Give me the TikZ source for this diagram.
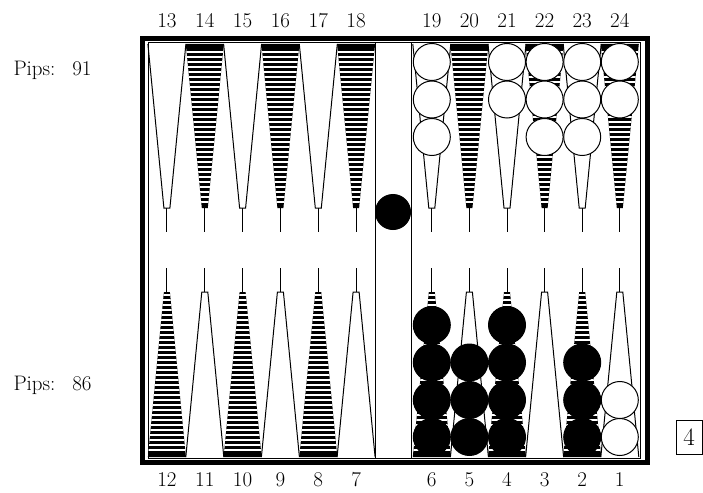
\documentclass[tikz,border=0pt]{standalone}
\begin{document}
\begin{tikzpicture}[x=1pt,y=-1pt,line width=1pt,
  num/.style={font=\fontsize{21}{25}\selectfont,inner sep=0pt,anchor=base},
  pips/.style={font=\fontsize{21}{25}\selectfont,inner sep=0pt,anchor=base west},
  whitestone/.style={draw,fill=white},
  blackstone/.style={draw,fill=black}]
\useasboundingbox (0,0) rectangle (703,492);

% frame and bar
\draw[line width=5pt] (142,39) rectangle (647,462);
\draw (148,43) rectangle (640,458);
\draw (375,43) -- (375,458);
\draw (411,43) -- (411,458);

% top points
\foreach \c in {204.8,280.4,356.1,469.4,544.6,619.8} {
  \fill (\c-19,44) -- (\c-3,208) -- (\c+3,208) -- (\c+19,44) -- cycle;
  \begin{scope}
    \clip (\c-19,44) -- (\c-3,208) -- (\c+3,208) -- (\c+19,44) -- cycle;
    \foreach \s in {52,57,...,205} \draw[white,line width=1.2pt] (\c-20,\s) -- (\c+20,\s);
  \end{scope}
  \draw (\c,208) -- (\c,232);
}
\foreach \c in {166.9,242.6,318.3,431.8,507.0,582.2} {
  \draw (\c-19,44) -- (\c-3,208) -- (\c+3,208) -- (\c+19,44);
  \draw (\c,208) -- (\c,232);
}

% bottom points
\foreach \c in {166.9,242.6,318.3,431.8,507.0,582.2} {
  \fill (\c-19,457) -- (\c-3,292) -- (\c+3,292) -- (\c+19,457) -- cycle;
  \begin{scope}
    \clip (\c-19,457) -- (\c-3,292) -- (\c+3,292) -- (\c+19,457) -- cycle;
    \foreach \s in {295,300,...,452} \draw[white,line width=1.2pt] (\c-20,\s) -- (\c+20,\s);
  \end{scope}
  \draw (\c,292) -- (\c,268);
}
\foreach \c in {204.8,280.4,356.1,469.4,544.6,619.8} {
  \draw (\c-19,457) -- (\c-3,292) -- (\c+3,292) -- (\c+19,457);
  \draw (\c,292) -- (\c,268);
}

% white checkers
\foreach \c/\y in {431.8/62,431.8/99.5,431.8/137,
                   507.0/62,507.0/99.5,
                   544.6/62,544.6/99.5,544.6/137,
                   582.2/62,582.2/99.5,582.2/137,
                   619.8/62,619.8/99.5,
                   619.8/437,619.8/400}
  \draw[whitestone] (\c,\y) circle (18.5);

% black checkers
\foreach \c/\y in {431.8/437,431.8/400,431.8/362.5,431.8/325,
                   469.4/437,469.4/400,469.4/362.5,
                   507.0/437,507.0/400,507.0/362.5,507.0/325,
                   582.2/437,582.2/400,582.2/362.5}
  \draw[blackstone] (\c,\y) circle (18.5);
\draw[blackstone] (393,212) circle (17.5);

% point numbers
\foreach \n/\c in {13/166.9,14/204.8,15/242.6,16/280.4,17/318.3,18/356.1,
                   19/431.8,20/469.4,21/507.0,22/544.6,23/582.2,24/619.8}
  \node[num] (top\n) at (\c,28) {\n};
\foreach \n/\c in {12/166.9,11/204.8,10/242.6,9/280.4,8/318.3,7/356.1,
                   6/431.8,5/469.4,4/507.0,3/544.6,2/582.2,1/619.8}
  \node[num] (bot\n) at (\c,486) {\n};

\node[pips] (pipsTop) at (13,76) {Pips:\hspace{0.8em}91};
\node[pips] (pipsBot) at (13,390) {Pips:\hspace{0.8em}86};

\node[draw,minimum width=26pt,minimum height=34pt,inner sep=0pt,
      font=\fontsize{25}{28}\selectfont] (cube) at (689,437.5) {4};
\end{tikzpicture}
\end{document}
